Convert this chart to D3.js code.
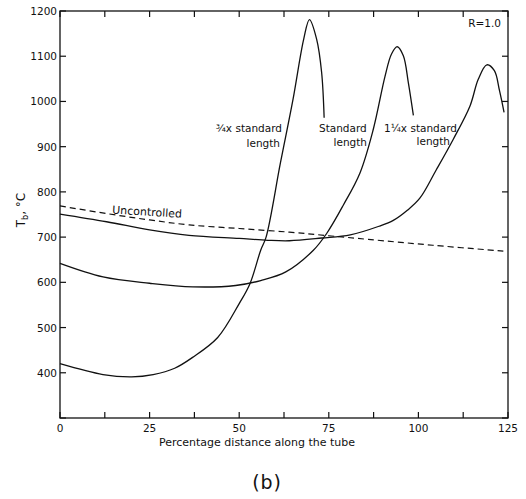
<!DOCTYPE html>
<html>
<head>
<meta charset="utf-8">
<script src="https://cdn.jsdelivr.net/npm/d3@7"></script>
<style>
  body { margin: 0; background: #fff; }
  text { font-family: "DejaVu Sans", sans-serif; fill: #111; }
</style>
</head>
<body>
<svg id="chart"></svg>
<script>
// values (percentage distance, temperature degC)
var pctQuarter = [0, 12, 20, 26, 32, 37, 44, 50, 53, 56, 57.5, 61.5, 65, 68, 69.6, 71.6, 73, 73.7];
var tempQuarter = [420, 396, 391, 396, 410, 434, 478, 553, 597, 671, 700, 864, 1004, 1138, 1181, 1138, 1064, 964];

var pctStd = [0, 12, 25, 37, 49, 56, 63, 70.7, 74.4, 79, 83.7, 87.4, 90.7, 92.5, 94.1, 95.8, 97.2, 98.6];
var tempStd = [642, 612, 598, 590, 593, 604, 623, 671, 708, 770, 842, 938, 1056, 1105, 1121, 1101, 1041, 969];

var pctLong = [0, 13, 25, 36, 50, 58, 64, 73, 81, 89, 93, 97, 100.4, 105, 109.7, 114.4, 116.7, 119.1, 121.2, 122.6, 123.9];
var tempLong = [751, 734, 716, 704, 697, 693, 692, 698, 705, 724, 737, 760, 786, 849, 916, 990, 1049, 1081, 1068, 1025, 976];

var pctUnc = [0, 13, 25, 36, 50, 64, 75, 86, 104, 123.7];
var tempUnc = [769, 752, 738, 727, 719, 711, 703, 695, 682, 669];

var xTicks = [0, 12.5, 25, 37.5, 50, 62.5, 75, 87.5, 100, 112.5, 125];
var xLabels = [0, 25, 50, 75, 100, 125];
var yTicks = [300, 400, 500, 600, 700, 800, 900, 1000, 1100, 1200];
var yLabels = [400, 500, 600, 700, 800, 900, 1000, 1100, 1200];

function drawchart(){
    var width = 526, height = 499;
    var x0 = 60, x1 = 508, y0 = 11, y1 = 418;

    var svg = d3.select("#chart")
        .attr("width", width)
        .attr("height", height);

    var x = d3.scaleLinear().domain([0, 125]).range([x0, x1]);
    var y = d3.scaleLinear().domain([300, 1200]).range([y1, y0]);

    function zip(a, b){
        return a.map(function(d, i){ return [d, b[i]]; });
    }

    // frame with inward ticks on all sides
    svg.append("rect")
        .attr("x", x0).attr("y", y0)
        .attr("width", x1 - x0).attr("height", y1 - y0)
        .attr("fill", "none").attr("stroke", "#111").attr("stroke-width", 1.3);

    var tickLen = 6;
    var g = svg.append("g").attr("stroke", "#111").attr("stroke-width", 1.2);
    xTicks.forEach(function(t){
        g.append("line").attr("x1", x(t)).attr("x2", x(t)).attr("y1", y1).attr("y2", y1 - tickLen);
        g.append("line").attr("x1", x(t)).attr("x2", x(t)).attr("y1", y0).attr("y2", y0 + tickLen);
    });
    yTicks.forEach(function(t){
        g.append("line").attr("x1", x0).attr("x2", x0 + tickLen).attr("y1", y(t)).attr("y2", y(t));
        g.append("line").attr("x1", x1).attr("x2", x1 - tickLen).attr("y1", y(t)).attr("y2", y(t));
    });

    // tick labels
    svg.selectAll(".xl").data(xLabels).enter().append("text")
        .attr("x", function(d){ return x(d); })
        .attr("y", 432)
        .attr("text-anchor", "middle")
        .attr("font-size", 10.5)
        .text(function(d){ return d; });

    svg.selectAll(".yl").data(yLabels).enter().append("text")
        .attr("x", 57)
        .attr("y", function(d){ return y(d) + 4; })
        .attr("text-anchor", "end")
        .attr("font-size", 10.5)
        .text(function(d){ return d; });

    // axis titles
    svg.append("text")
        .attr("x", 257).attr("y", 446)
        .attr("text-anchor", "middle")
        .attr("font-size", 11)
        .text("Percentage distance along the tube");

    var ylab = svg.append("text")
        .attr("transform", "translate(25,210) rotate(-90)")
        .attr("text-anchor", "middle")
        .attr("font-size", 12);
    ylab.append("tspan").text("T");
    ylab.append("tspan").attr("font-size", 8).attr("dy", 3).text("b");
    ylab.append("tspan").attr("dy", -3).text(",   °C");

    svg.append("text")
        .attr("x", 267).attr("y", 489)
        .attr("text-anchor", "middle")
        .attr("font-family", "Liberation Serif, serif")
        .attr("font-size", 19)
        .attr("letter-spacing", 0.8)
        .text("(b)");

    // curves
    var line = d3.line()
        .x(function(d){ return x(d[0]); })
        .y(function(d){ return y(d[1]); })
        .curve(d3.curveCatmullRom.alpha(0.5));

    [[pctQuarter, tempQuarter], [pctStd, tempStd], [pctLong, tempLong]].forEach(function(s){
        svg.append("path")
            .attr("d", line(zip(s[0], s[1])))
            .attr("fill", "none")
            .attr("stroke", "#111")
            .attr("stroke-width", 1.3);
    });

    svg.append("path")
        .attr("d", line(zip(pctUnc, tempUnc)))
        .attr("fill", "none")
        .attr("stroke", "#111")
        .attr("stroke-width", 1.2)
        .attr("stroke-dasharray", "6,4");

    // curve labels
    function label(txt, px, py, anchor){
        svg.append("text")
            .attr("x", px).attr("y", py)
            .attr("text-anchor", anchor)
            .attr("font-size", 10.5)
            .text(txt);
    }
    label("\u00BEx standard", 282, 132, "end");
    label("length", 280, 147, "end");
    label("Standard", 319, 132, "start");
    label("length", 367, 146, "end");
    label("1\u00BCx standard", 457, 132, "end");
    label("length", 450, 145, "end");
    label("R=1.0", 501, 27, "end");

    svg.append("text")
        .attr("transform", "translate(112,213.5) rotate(3.5)")
        .attr("font-size", 11)
        .text("Uncontrolled");
}

drawchart();
</script>
</body>
</html>
